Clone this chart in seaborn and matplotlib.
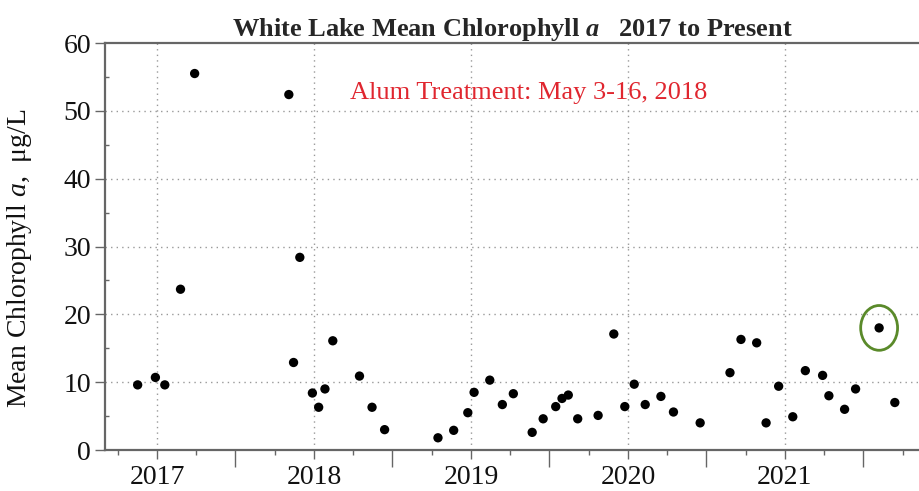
import matplotlib
matplotlib.use("Agg")
import matplotlib.pyplot as plt
from matplotlib.patches import Ellipse
from matplotlib.ticker import FixedLocator, NullFormatter
import numpy as np
import pandas as pd
import seaborn as sns

# sample dates as decimal years
year = [2016.877, 2016.99, 2017.05, 2017.15, 2017.24, 2017.84, 2017.87, 2017.91,
        2017.99, 2018.03, 2018.07, 2018.12, 2018.29, 2018.37, 2018.45, 2018.79,
        2018.89, 2018.98, 2019.02, 2019.12, 2019.20, 2019.27, 2019.39, 2019.46,
        2019.54, 2019.58, 2019.62, 2019.68, 2019.81, 2019.91, 2019.98, 2020.04,
        2020.11, 2020.21, 2020.29, 2020.46, 2020.65, 2020.72, 2020.82, 2020.88,
        2020.96, 2021.05, 2021.13, 2021.24, 2021.28, 2021.38, 2021.45, 2021.60,
        2021.70]
chl = [9.6, 10.7, 9.6, 23.7, 55.5, 52.4, 12.9, 28.4,
       8.4, 6.3, 9.0, 16.1, 10.9, 6.3, 3.0, 1.8,
       2.9, 5.5, 8.5, 10.3, 6.7, 8.3, 2.6, 4.6,
       6.4, 7.6, 8.1, 4.6, 5.1, 17.1, 6.4, 9.7,
       6.7, 7.9, 5.6, 4.0, 11.4, 16.3, 15.8, 4.0,
       9.4, 4.9, 11.7, 11.0, 8.0, 6.0, 9.0, 18.0,
       7.0]
year_labels = [2017, 2018, 2019, 2020, 2021]
circled = (2021.60, 18.0)

df = pd.DataFrame({"year": year, "chl": chl})

sns.set_style("white")
plt.rcParams['font.family'] = ['Liberation Serif', 'DejaVu Serif']
plt.rcParams['mathtext.fontset'] = 'custom'
plt.rcParams['mathtext.rm'] = 'Liberation Serif'
plt.rcParams['mathtext.it'] = 'Liberation Serif:italic'
plt.rcParams['mathtext.bf'] = 'Liberation Serif:bold'
plt.rcParams['mathtext.bfit'] = 'Liberation Serif:italic:bold'

fig = plt.figure(figsize=(9.19, 4.91), dpi=100)
ax = fig.add_axes([105/919, 41/491, 1 - 105/919, 407/491])

sns.scatterplot(data=df, x="year", y="chl", color="black", s=45,
                edgecolor="none", ax=ax, zorder=3)

# y axis ticks
ax.set_yticks(np.arange(0, 61, 10))
ax.yaxis.set_minor_locator(FixedLocator(np.arange(5, 60, 10)))
ax.tick_params(axis="y", which="major", direction="out", length=7, width=1,
               color="#666666", labelsize=20, pad=3, left=True, labelcolor="#111111")
ax.tick_params(axis="y", which="minor", direction="in", length=3, width=1,
               color="#666666", left=True)

# x axis: year ticks (labelled) + mid-year ticks (long, unlabelled), quarters minor
xt = []
xl = []
for y in year_labels:
    xt.append(y)
    xl.append(str(y))
    xt.append(y + 0.5)
    xl.append("")
ax.set_xticks(xt)
ax.set_xticklabels(xl)
ax.xaxis.set_minor_locator(FixedLocator([y + q for y in range(2016, 2022) for q in (0.25, 0.75)]))
ax.xaxis.set_minor_formatter(NullFormatter())
ax.tick_params(axis="x", which="major", direction="out", length=6.5, width=1,
               color="#666666", labelsize=20, pad=4, bottom=True, labelcolor="#111111")
ax.tick_params(axis="x", which="minor", direction="out", length=3.5, width=1,
               color="#666666", bottom=True)

ax.set_xlim(2016.669, 2021.854)
ax.set_ylim(0, 60)

ax.grid(True, which="major", linestyle=(0, (1, 3)), color="#999999", linewidth=1)
for t, v in zip(ax.xaxis.get_major_ticks(), xt):
    if v % 1 != 0:
        t.tick1line.set_markersize(12)
        t.gridline.set_visible(False)
for t in ax.yaxis.get_major_ticks()[:1] + ax.yaxis.get_major_ticks()[-1:]:
    t.gridline.set_visible(False)

for side in ["left", "bottom", "top"]:
    ax.spines[side].set_color("#666666")
    ax.spines[side].set_linewidth(1.6)
ax.spines["right"].set_visible(False)

ax.set_xlabel("")
ax.set_ylabel("Mean Chlorophyll $a$,  μg/L", fontsize=20, color="#111111")
ax.yaxis.set_label_coords(-0.087, 0.472)
ax.set_title("White Lake Mean Chlorophyll $\\mathbfit{a}$   2017 to Present",
             fontsize=19, fontweight="bold", pad=4)

ax.text(2019.37, 52.6, "Alum Treatment: May 3-16, 2018", color="#e0262f",
        fontsize=19, ha="center", va="center")

ax.add_patch(Ellipse(circled, width=0.235, height=6.6, fill=False,
                     edgecolor="#5a8a2a", linewidth=2, zorder=4))

fig.savefig("out.png", dpi=100)
